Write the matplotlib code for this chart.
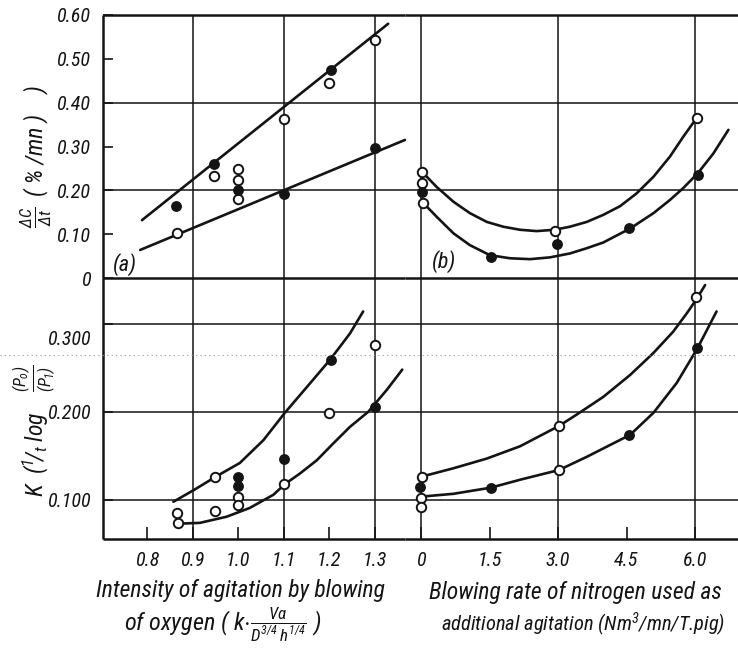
import matplotlib
matplotlib.use('Agg')
import matplotlib.pyplot as plt
from matplotlib import font_manager
from matplotlib.lines import Line2D

W, H = 738, 653

# ---- panel (a), top: decarburization rate vs. oxygen agitation ----
a_top_open_x = [0.865, 0.947, 1.0, 1.0, 1.0, 1.1, 1.2, 1.3]
a_top_open_y = [0.103, 0.233, 0.249, 0.224, 0.180, 0.363, 0.445, 0.543]
a_top_fill_x = [0.864, 0.947, 1.0, 1.1, 1.205, 1.3]
a_top_fill_y = [0.164, 0.260, 0.201, 0.192, 0.475, 0.297]
a_top_line1_x = [0.789, 1.330]
a_top_line1_y = [0.132, 0.580]
a_top_line2_x = [0.785, 1.367]
a_top_line2_y = [0.064, 0.315]

# ---- panel (b), top: decarburization rate vs. nitrogen rate ----
b_top_open_x = [0.03, 0.02, 0.04, 2.93, 6.04]
b_top_open_y = [0.242, 0.217, 0.171, 0.107, 0.365]
b_top_fill_x = [0.02, 1.53, 2.98, 4.56, 6.06]
b_top_fill_y = [0.196, 0.048, 0.078, 0.114, 0.235]
b_top_curve1_x = [0.09, 0.34, 0.71, 1.07, 1.44, 1.80, 2.17, 2.53, 2.92, 3.26,
                  3.63, 3.99, 4.36, 4.72, 5.09, 5.45, 5.74, 6.00]
b_top_curve1_y = [0.235, 0.208, 0.174, 0.148, 0.128, 0.117, 0.110, 0.107, 0.110, 0.117,
                  0.128, 0.144, 0.164, 0.193, 0.231, 0.277, 0.322, 0.360]
b_top_curve2_x = [0.09, 0.34, 0.71, 1.07, 1.51, 1.95, 2.39, 2.82, 3.26, 3.63,
                  3.99, 4.58, 5.09, 5.45, 5.74, 6.06, 6.40, 6.73]
b_top_curve2_y = [0.167, 0.140, 0.102, 0.075, 0.052, 0.045, 0.043, 0.047, 0.056, 0.068,
                  0.081, 0.113, 0.148, 0.178, 0.205, 0.239, 0.284, 0.338]

# ---- panel (a), bottom: K vs. oxygen agitation ----
a_bot_open_x = [0.866, 0.868, 0.95, 0.95, 1.0, 1.0, 1.1, 1.2, 1.3]
a_bot_open_y = [0.085, 0.074, 0.0875, 0.126, 0.103, 0.094, 0.118, 0.199, 0.276]
a_bot_fill_x = [1.0, 1.0, 1.1, 1.205, 1.3]
a_bot_fill_y = [0.126, 0.116, 0.147, 0.259, 0.206]
a_bot_curve1_x = [0.858, 0.902, 0.953, 1.004, 1.056, 1.103, 1.151, 1.202, 1.246, 1.275]
a_bot_curve1_y = [0.098, 0.111, 0.127, 0.142, 0.168, 0.199, 0.228, 0.259, 0.289, 0.314]
a_bot_curve2_x = [0.865, 0.916, 0.975, 1.026, 1.078, 1.103, 1.136, 1.173, 1.209, 1.246,
                  1.286, 1.327, 1.361]
a_bot_curve2_y = [0.073, 0.074, 0.081, 0.091, 0.106, 0.118, 0.130, 0.145, 0.164, 0.183,
                  0.200, 0.225, 0.248]

# ---- panel (b), bottom: K vs. nitrogen rate ----
b_bot_open_x = [0.02, 0.0, 0.0, 3.02, 3.02, 6.02]
b_bot_open_y = [0.126, 0.102, 0.092, 0.184, 0.134, 0.330]
b_bot_fill_x = [-0.02, 1.53, 4.55, 6.04]
b_bot_fill_y = [0.115, 0.114, 0.174, 0.273]
b_bot_curve1_x = [0.05, 0.71, 1.44, 2.17, 3.02, 3.41, 3.99, 4.58, 5.09, 5.52, 5.82,
                  6.02, 6.22]
b_bot_curve1_y = [0.127, 0.136, 0.147, 0.161, 0.184, 0.197, 0.217, 0.242, 0.267, 0.291,
                  0.312, 0.327, 0.344]
b_bot_curve2_x = [0.05, 0.71, 1.53, 2.17, 3.02, 3.63, 4.58, 5.09, 5.60, 6.05, 6.47]
b_bot_curve2_y = [0.104, 0.107, 0.114, 0.123, 0.134, 0.149, 0.174, 0.199, 0.233, 0.272,
                  0.314]

a_xticks = [0.8, 0.9, 1.0, 1.1, 1.2, 1.3]
a_xlabels = ['0.8', '0.9', '1.0', '1.1', '1.2', '1.3']
b_xticks = [0, 1.5, 3.0, 4.5, 6.0]
b_xlabels = ['0', '1.5', '3.0', '4.5', '6.0']
top_yticks = [0, 0.1, 0.2, 0.3, 0.4, 0.5, 0.6]
top_ylabels = ['0', '0.10', '0.20', '0.30', '0.40', '0.50', '0.60']
bot_yticks = [0.1, 0.2, 0.3]
bot_ylabels = ['0.100', '0.200', '']

INK = '#141414'

# pick a narrow face if there is one, else the narrowest regular sans
fm = font_manager.fontManager
names = {f.name for f in fm.ttflist}
FAM, STRETCH, NARROW = 'Liberation Sans', 'normal', False
for cand in ['Liberation Sans Narrow', 'Roboto Condensed', 'Open Sans Condensed']:
    if cand in names:
        FAM, NARROW = cand, True
        break
else:
    if any('DejaVuSansCondensed' in f.fname for f in fm.ttflist):
        FAM, STRETCH, NARROW = 'DejaVu Sans', 'condensed', True

k = 1.0 if NARROW else 0.86
TICK_FS = 14.5 * k

plt.rcParams['font.family'] = [FAM, 'DejaVu Sans']
plt.rcParams['font.stretch'] = STRETCH
plt.rcParams['font.style'] = 'italic'
plt.rcParams['mathtext.fontset'] = 'custom'
plt.rcParams['mathtext.rm'] = FAM + ':italic'
plt.rcParams['mathtext.it'] = FAM + ':italic'
plt.rcParams['mathtext.bf'] = FAM + ':italic:bold'


def rect(x0, y0, x1, y1):
    return [x0 / W, 1 - y1 / H, (x1 - x0) / W, (y1 - y0) / H]


fig = plt.figure(figsize=(W / 100, H / 100), dpi=100)
fig.patch.set_facecolor('white')

ax_at = fig.add_axes(rect(103, 15, 405, 278))
ax_bt = fig.add_axes(rect(405, 15, 738, 278))
ax_ab = fig.add_axes(rect(103, 278, 405, 539))
ax_bb = fig.add_axes(rect(405, 278, 738, 539))

a_xlim = (0.7033, 1.367)
b_xlim = (-0.35, 6.94)
top_ylim = (0, 0.6)
bot_ylim = (0.0557, 0.352)

for ax in (ax_at, ax_bt, ax_ab, ax_bb):
    ax.set_facecolor('none')
    ax.spines['right'].set_visible(False)
    for s in ax.spines.values():
        s.set_linewidth(1.8)
        s.set_color(INK)
        s.set_capstyle('butt')
    ax.tick_params(direction='in', length=7, width=1.2, color=INK,
                   labelsize=TICK_FS, labelcolor=INK)

for ax in (ax_bt, ax_bb):
    ax.spines['left'].set_visible(False)
    ax.set_yticks([])
for ax in (ax_ab, ax_bb):
    ax.spines['top'].set_visible(False)
for ax in (ax_at, ax_bt):
    ax.set_xticks([])

ax_at.set_xlim(a_xlim)
ax_ab.set_xlim(a_xlim)
ax_bt.set_xlim(b_xlim)
ax_bb.set_xlim(b_xlim)
ax_at.set_ylim(top_ylim)
ax_bt.set_ylim(top_ylim)
ax_ab.set_ylim(bot_ylim)
ax_bb.set_ylim(bot_ylim)

# grid lines (only every other value on x)
for ax in (ax_at, ax_ab):
    for v in (0.9, 1.1, 1.3):
        ax.axvline(v, color=INK, lw=1.1, zorder=1)
for ax in (ax_bt, ax_bb):
    for v in (0, 3.0, 6.0):
        ax.axvline(v, color=INK, lw=1.1, zorder=1)
for ax in (ax_at, ax_bt):
    for v in (0.2, 0.4):
        ax.axhline(v, color=INK, lw=1.1, zorder=1)
for ax in (ax_ab, ax_bb):
    for v in (0.1, 0.2, 0.3):
        ax.axhline(v, color=INK, lw=1.1, zorder=1)

ax_at.set_yticks(top_yticks)
ax_at.set_yticklabels(top_ylabels)
ax_at.tick_params(axis='y', pad=9)
ax_ab.set_yticks(bot_yticks)
ax_ab.set_yticklabels(bot_ylabels)
ax_ab.tick_params(axis='y', pad=9)
ax_ab.annotate('0.300', xy=(0, 0.3), xycoords=('axes fraction', 'data'),
               xytext=(-12, -16), textcoords='offset pixels',
               ha='right', va='center', fontsize=TICK_FS, color=INK)

ax_ab.set_xticks(a_xticks)
ax_ab.set_xticklabels(a_xlabels)
ax_ab.tick_params(axis='x', length=9, pad=9)
ax_bb.set_xticks(b_xticks)
ax_bb.set_xticklabels(b_xlabels)
ax_bb.tick_params(axis='x', length=9, pad=9)

line_kw = dict(color=INK, lw=1.9, solid_capstyle='round', solid_joinstyle='round',
               clip_on=False, zorder=2)
open_kw = dict(marker='o', ls='none', ms=6.8, mfc='white', mec=INK, mew=1.4,
               clip_on=False, zorder=3)
fill_kw = dict(marker='o', ls='none', ms=6.8, mfc=INK, mec=INK, mew=1.0,
               clip_on=False, zorder=3)

ax_at.plot(a_top_line1_x, a_top_line1_y, **line_kw)
ax_at.plot(a_top_line2_x, a_top_line2_y, **line_kw)
ax_at.plot(a_top_open_x, a_top_open_y, **open_kw)
ax_at.plot(a_top_fill_x, a_top_fill_y, **fill_kw)

ax_bt.plot(b_top_curve1_x, b_top_curve1_y, **line_kw)
ax_bt.plot(b_top_curve2_x, b_top_curve2_y, **line_kw)
ax_bt.plot(b_top_open_x, b_top_open_y, **open_kw)
ax_bt.plot(b_top_fill_x, b_top_fill_y, **fill_kw)

ax_ab.plot(a_bot_curve1_x, a_bot_curve1_y, **line_kw)
ax_ab.plot(a_bot_curve2_x, a_bot_curve2_y, **line_kw)
ax_ab.plot(a_bot_open_x, a_bot_open_y, **open_kw)
ax_ab.plot(a_bot_fill_x, a_bot_fill_y, **fill_kw)

ax_bb.plot(b_bot_curve1_x, b_bot_curve1_y, **line_kw)
ax_bb.plot(b_bot_curve2_x, b_bot_curve2_y, **line_kw)
ax_bb.plot(b_bot_open_x, b_bot_open_y, **open_kw)
ax_bb.plot(b_bot_fill_x, b_bot_fill_y, **fill_kw)

# panel tags
fig.text(113 / W, 1 - 265 / H, '(a)', fontsize=16 * k, color=INK, va='center')
fig.text(432 / W, 1 - 262 / H, '(b)', fontsize=16 * k, color=INK, va='center')

# y axis titles (fraction parts set apart, as in the original lettering)
fig.text(36 / W, 1 - 217 / H, r'$\frac{\Delta C}{\Delta t}$',
         rotation=90, ha='center', va='center', fontsize=17 * k, color=INK)
fig.text(36 / W, 1 - 196 / H, '( % /mn )    )',
         rotation=90, ha='center', va='bottom', fontsize=17 * k, color=INK)
fig.text(36 / W, 1 - 497 / H, r'K  ($^{1}\!/_{t}$ log',
         rotation=90, ha='center', va='bottom', fontsize=17 * k, color=INK)
fig.text(34 / W, 1 - 378 / H, r'$\frac{(P_o)}{(P_1)}$',
         rotation=90, ha='center', va='center', fontsize=17 * k, color=INK)

# x axis titles
fig.text(240 / W, 1 - 590 / H, 'Intensity of agitation by blowing',
         ha='center', va='center', fontsize=17 * k, color=INK)
fig.text(223 / W, 1 - 625 / H,
         r'of oxygen ( k$\cdot\frac{V\alpha}{D^{3/4}\,h^{1/4}}$ )',
         ha='center', va='center', fontsize=17.5 * k, color=INK)
fig.text(575 / W, 1 - 592 / H, 'Blowing rate of nitrogen used as',
         ha='center', va='center', fontsize=17 * k, color=INK)
fig.text(583 / W, 1 - 625 / H, 'additional agitation (Nm$^3$/mn/T.pig)',
         ha='center', va='center', fontsize=14.8 * k, color=INK)

# faint dotted scan line across the lower panel
fig.add_artist(Line2D([0, 1], [1 - 355 / H] * 2, transform=fig.transFigure,
                      ls=(0, (1, 3)), color='#9a9a9a', lw=0.8))

fig.savefig('out.png', dpi=100, facecolor='white')
